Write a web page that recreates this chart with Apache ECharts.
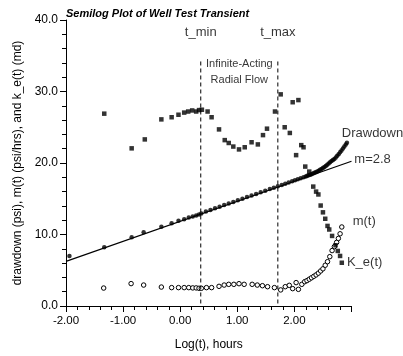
<!DOCTYPE html>
<html>
<head>
<meta charset="utf-8">
<script src="https://cdn.jsdelivr.net/npm/echarts@6/dist/echarts.min.js"></script>
<style>
html,body{margin:0;padding:0;background:#fff;}
#chart{width:403px;height:356px;}
</style>
</head>
<body>
<div id="chart"></div>
<script>
// ---- Data ----
const drawdownX = [-1.94, -1.33, -0.85, -0.64, -0.33, -0.15, -0.03, 0.07, 0.15, 0.22, 0.28, 0.33, 0.37,
  0.45, 0.53, 0.61, 0.69, 0.77, 0.85, 0.93, 1.01, 1.09, 1.17, 1.25, 1.33, 1.41, 1.49, 1.57, 1.64, 1.71,
  1.78, 1.84, 1.90, 1.96, 2.01, 2.06, 2.11, 2.16, 2.20,
  2.225, 2.25, 2.275, 2.30, 2.325, 2.35, 2.375, 2.40, 2.425, 2.45, 2.475, 2.50, 2.525, 2.55, 2.575, 2.60,
  2.625, 2.65, 2.675, 2.70, 2.725, 2.75, 2.775, 2.80, 2.825, 2.85, 2.875, 2.90, 2.92];
const drawdownY = [6.98, 8.23, 9.63, 10.33, 11.08, 11.58, 11.91, 12.14, 12.38, 12.52, 12.66, 12.8, 12.93,
  13.21, 13.43, 13.66, 13.88, 14.11, 14.33, 14.55, 14.78, 15.0, 15.23, 15.45, 15.67, 15.9, 16.12, 16.35, 16.54, 16.74,
  16.93, 17.1, 17.27, 17.44, 17.58, 17.72, 17.86, 18.0, 18.1,
  18.2, 18.28, 18.36, 18.44, 18.53, 18.62, 18.72, 18.82, 18.93, 19.05, 19.17, 19.3, 19.44, 19.59, 19.76, 19.93,
  20.1, 20.27, 20.41, 20.56, 20.78, 21.0, 21.24, 21.49, 21.76, 22.03, 22.3, 22.57, 22.83];

const mX = [-1.34, -0.86, -0.64, -0.33, -0.15, -0.03, 0.07, 0.15, 0.22, 0.28, 0.33, 0.37, 0.46, 0.55, 0.68,
  0.77, 0.85, 0.94, 1.03, 1.12, 1.26, 1.35, 1.44, 1.53, 1.65, 1.76, 1.84, 1.91, 1.97, 2.03, 2.07, 2.13, 2.18,
  2.22, 2.26, 2.30, 2.34, 2.38, 2.42, 2.46, 2.50, 2.54, 2.58, 2.62, 2.66, 2.70, 2.74, 2.77, 2.80, 2.83];
const mY = [2.51, 3.13, 2.93, 2.65, 2.57, 2.57, 2.57, 2.57, 2.53, 2.53, 2.48, 2.48, 2.57, 2.57, 2.75,
  2.93, 3.03, 3.03, 3.12, 3.03, 3.03, 2.93, 2.84, 2.7, 2.57, 2.25, 2.7, 2.89, 2.43, 3.27, 2.33, 3.03, 3.4,
  3.55, 3.75, 3.95, 4.15, 4.35, 4.6, 4.9, 5.2, 5.7, 6.2, 6.9, 7.75, 8.3, 8.9, 9.45, 10.1, 11.05];

const keX = [-1.33, -0.85, -0.62, -0.33, -0.15, -0.03, 0.07, 0.14, 0.21, 0.28, 0.33, 0.38, 0.48, 0.55, 0.68,
  0.78, 0.85, 0.93, 1.03, 1.13, 1.25, 1.36, 1.45, 1.52, 1.66, 1.76, 1.83, 1.92, 1.97, 2.03, 2.07, 2.12, 2.16,
  2.19, 2.26, 2.33, 2.38, 2.42, 2.46, 2.50, 2.54, 2.58, 2.61, 2.66, 2.72, 2.76, 2.80, 2.83];
const keY = [26.9, 22.05, 23.3, 26.1, 26.4, 26.75, 27.05, 27.2, 27.35, 27.2, 27.4, 27.45, 27.2, 26.4, 24.7,
  23.2, 22.8, 22.3, 21.9, 22.2, 22.9, 22.6, 23.9, 24.8, 27.2, 29.6, 25.0, 24.2, 28.5, 21.1, 28.8, 22.5, 22.2,
  19.5, 18.8, 16.7, 16.0, 15.6, 14.05, 13.1, 12.2, 11.2, 10.7, 9.8, 8.5, 7.7, 7.0, 6.05];

const fitX = [-2, 3];
const fitY = [6.25, 20.25];

const tMin = 0.36;
const tMax = 1.71;
const markerTop = 34.2;

const xTicks = [-2, -1, 0, 1, 2];
const yTicks = [0, 10, 20, 30, 40];

// ---- Build ----
const zip = (xs, ys) => xs.map((x, i) => [x, ys[i]]);
const FONT = '"Liberation Sans", Arial, sans-serif';

const annotations = [
  {value: [tMin, 38.2], text: 't_min', align: 'center', size: 13},
  {value: [tMax, 38.2], text: 't_max', align: 'center', size: 13},
  {value: [(tMin + tMax) / 2, 33.9], text: 'Infinite-Acting', align: 'center', size: 11},
  {value: [(tMin + tMax) / 2, 31.6], text: 'Radial Flow', align: 'center', size: 11},
  {value: [2.83, 24.1], text: 'Drawdown', align: 'left', size: 13},
  {value: [3.05, 20.45], text: 'm=2.8', align: 'left', size: 13},
  {value: [3.02, 11.86], text: 'm(t)', align: 'left', size: 13},
  {value: [2.92, 6.06], text: 'K_e(t)', align: 'left', size: 13}
];

const chart = echarts.init(document.getElementById('chart'), null, {renderer: 'canvas'});
chart.setOption({
  animation: false,
  backgroundColor: '#fff',
  title: {
    text: 'Semilog Plot of Well Test Transient',
    left: 66, top: 8, padding: 0,
    textStyle: {fontFamily: FONT, fontSize: 11, fontWeight: 'bold', fontStyle: 'italic', color: '#000'}
  },
  grid: {left: 66, top: 20, width: 285.5, height: 286.7, containLabel: false},
  xAxis: {
    type: 'value', min: -2, max: 3, interval: 1,
    name: 'Log(t), hours', nameLocation: 'middle', nameGap: 33,
    nameTextStyle: {fontFamily: FONT, fontSize: 12, color: '#000'},
    axisLine: {show: true, onZero: false, lineStyle: {color: '#000', width: 1}},
    axisTick: {show: true, length: 6, lineStyle: {color: '#000'}},
    minorTick: {show: true, splitNumber: 5, length: 4, lineStyle: {color: '#000'}},
    splitLine: {show: false},
    axisLabel: {
      margin: 9, showMaxLabel: false, fontFamily: FONT, fontSize: 11.5, color: '#000',
      formatter: v => xTicks.includes(Math.round(v * 100) / 100) ? v.toFixed(2) : ''
    }
  },
  yAxis: {
    type: 'value', min: 0, max: 40, interval: 10,
    name: 'drawdown (psi), m(t) (psi/hrs), and k_e(t) (md)', nameLocation: 'middle', nameGap: 42,
    nameTextStyle: {fontFamily: FONT, fontSize: 12, color: '#000'},
    axisLine: {show: true, onZero: false, lineStyle: {color: '#000', width: 1}},
    axisTick: {show: true, length: 6, lineStyle: {color: '#000'}},
    minorTick: {show: true, splitNumber: 5, length: 4, lineStyle: {color: '#000'}},
    splitLine: {show: false},
    axisLabel: {
      margin: 8, fontFamily: FONT, fontSize: 12, color: '#000',
      formatter: v => yTicks.includes(v) ? v.toFixed(1) : ''
    }
  },
  series: [
    {
      name: 'tmin', type: 'line', data: [[tMin, markerTop], [tMin, 0]],
      symbol: 'none', silent: true,
      lineStyle: {color: '#000', width: 1, type: [4, 3]}
    },
    {
      name: 'tmax', type: 'line', data: [[tMax, markerTop], [tMax, 0]],
      symbol: 'none', silent: true,
      lineStyle: {color: '#000', width: 1, type: [4, 3]}
    },
    {
      name: 'fit', type: 'line', data: zip(fitX, fitY),
      symbol: 'none', lineStyle: {color: '#000', width: 1.2}
    },
    {
      name: 'Drawdown', type: 'scatter', data: zip(drawdownX, drawdownY),
      symbol: 'circle', symbolSize: 4.5, itemStyle: {color: '#000'}
    },
    {
      name: 'm(t)', type: 'scatter', data: zip(mX, mY),
      symbol: 'circle', symbolSize: 4.5,
      itemStyle: {color: '#ffffff', borderColor: '#000000', borderWidth: 1, opacity: 1}
    },
    {
      name: 'K_e(t)', type: 'scatter', data: zip(keX, keY),
      symbol: 'rect', symbolSize: 4.5, itemStyle: {color: '#000'}
    },
    {
      name: 'labels', type: 'scatter', clip: false, silent: true,
      symbolSize: 0,
      data: annotations.map(a => ({
        value: a.value,
        label: {
          show: true, position: 'inside', formatter: a.text, align: a.align,
          verticalAlign: 'middle', fontFamily: FONT, fontSize: a.size, color: '#000'
        }
      }))
    }
  ]
});
</script>
</body>
</html>
